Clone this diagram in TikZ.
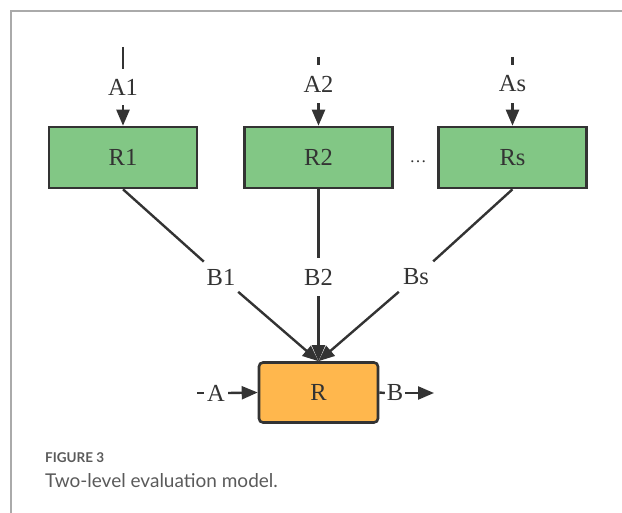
\documentclass[tikz,border=0pt]{standalone}
\usepackage{fontspec}
\setmainfont{Liberation Serif}
\newfontfamily\capfont{Lato}
\usetikzlibrary{arrows.meta}
\definecolor{boxgreen}{HTML}{82C785}
\definecolor{boxorange}{HTML}{FFB74D}
\definecolor{ink}{HTML}{333333}
\definecolor{framegray}{HTML}{AAAAAA}
\definecolor{capgray}{HTML}{5A5A5A}
\begin{document}
\begin{tikzpicture}[x=1pt,y=-1pt,
  lab/.style={font=\fontsize{24.5}{27}\selectfont, text=ink, inner sep=0pt},
  gbox/.style={draw=ink, line width=2.6pt, fill=boxgreen, minimum width=148pt, minimum height=61pt, inner sep=0pt, font=\fontsize{24.5}{27}\selectfont, text=ink},
  obox/.style={draw=ink, line width=2.6pt, fill=boxorange, rounded corners=4pt, minimum width=119pt, minimum height=60pt, inner sep=0pt, font=\fontsize{24.5}{27}\selectfont, text=ink},
  conn/.style={draw=ink, line width=2.4pt},
  arr/.style={conn, -{Triangle[length=16pt,width=13pt]}},
  alab/.style={lab, minimum width=30pt, minimum height=38pt},
  blab/.style={lab, minimum width=34pt, minimum height=38pt},
  slab/.style={lab, minimum height=20pt}
]
\useasboundingbox (0,0) rectangle (622,513);
% frame
\draw[framegray, line width=1.5pt] (11,513) -- (11,11) -- (622,11);

% boxes
\node[gbox] (R1) at (123,157.5) {R1};
\node[gbox] (R2) at (318.5,157.5) {R2};
\node[gbox] (Rs) at (512.5,157.5) {Rs};
\node[lab, font=\fontsize{17}{19}\selectfont] (dots) at (418,162) {\ldots};
\node[obox] (R) at (318.5,392.5) {R};

% input labels on top
\coordinate (a1top) at (123,47);
\coordinate (a2top) at (318.5,57);
\coordinate (astop) at (512.5,57);
\node[alab, minimum height=36pt] (A1) at (123,87) {A1};
\node[alab] (A2) at (318.5,84) {A2};
\node[alab] (As) at (512.5,84) {As};
\draw[conn] (a1top) -- (A1.north);
\draw[conn] (a2top) -- (A2.north);
\draw[conn] (astop) -- (As.north);
\draw[arr] (A1.south) -- (R1.north);
\draw[arr] (A2.south) -- (R2.north);
\draw[arr] (As.south) -- (Rs.north);

% B labels
\node[blab] (B1) at (221,277) {B1};
\node[blab] (B2) at (318.5,277) {B2};
\node[blab] (Bs) at (416,277) {Bs};
\draw[conn] (R1.south) -- (B1);
\draw[conn] (R2.south) -- (B2);
\draw[conn] (Rs.south) -- (Bs);
\draw[arr] (B1) -- (R.north);
\draw[arr] (B2) -- (R.north);
\draw[arr] (Bs) -- (R.north);

% side input/output
\coordinate (ain) at (197,393);
\coordinate (bout) at (434,393);
\node[slab, minimum width=24pt] (A) at (216,393) {A};
\node[slab, minimum width=20pt] (B) at (395,393) {B};
\draw[conn] (ain) -- (A.west);
\draw[arr] (A.east) -- (R.west);
\draw[conn] (R.east) -- (B.west);
\draw[arr] (B.east) -- (bout);

% caption
\node[anchor=base west, inner sep=0pt, text=capgray, font=\capfont\bfseries\fontsize{13.5}{15}\selectfont] (fig) at (45,463) {FIGURE 3};
\node[anchor=base west, inner sep=0pt, text=capgray, font=\capfont\fontsize{19}{22}\selectfont] (cap) at (45,487) {Two-level evaluation model.};
\end{tikzpicture}
\end{document}
